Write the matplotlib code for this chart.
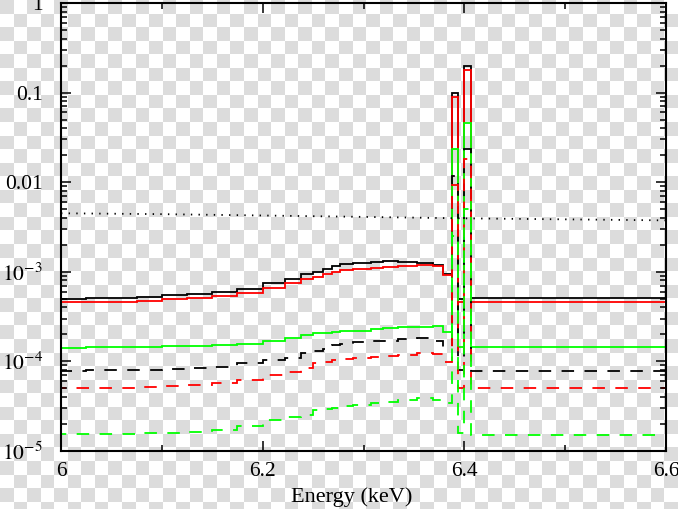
import numpy as np
import matplotlib
matplotlib.use("Agg")
import matplotlib.pyplot as plt
from matplotlib.ticker import FixedLocator, FixedFormatter, LogLocator, NullFormatter

plt.rcParams['font.family'] = ['Liberation Serif', 'DejaVu Serif']
plt.rcParams['mathtext.fontset'] = 'stix'
plt.rcParams['lines.scale_dashes'] = False

# bin edges (keV)
edges = [6.0, 6.025, 6.05, 6.075, 6.1, 6.125, 6.15, 6.175, 6.2, 6.222, 6.238,
         6.25, 6.26, 6.269, 6.277, 6.29, 6.307, 6.319, 6.334, 6.353, 6.369,
         6.379, 6.388, 6.394, 6.4, 6.407, 6.5, 6.6]

# solid curves
black_solid = [4.97e-4, 5.1e-4, 5.1e-4, 5.27e-4, 5.47e-4, 5.7e-4, 6.0e-4, 6.43e-4,
               7.44e-4, 8.31e-4, 9.38e-4, 1.0e-3, 1.07e-3, 1.16e-3, 1.21e-3, 1.26e-3,
               1.30e-3, 1.32e-3, 1.30e-3, 1.26e-3, 1.19e-3, 9.5e-4, 0.1, 5.0e-4, 0.2,
               5.1e-4, 5.1e-4]
red_solid = [4.57e-4, 4.61e-4, 4.61e-4, 4.75e-4, 4.93e-4, 5.14e-4, 5.41e-4, 5.75e-4,
             6.65e-4, 7.44e-4, 8.24e-4, 8.81e-4, 9.45e-4, 1.0e-3, 1.05e-3, 1.07e-3,
             1.11e-3, 1.14e-3, 1.17e-3, 1.19e-3, 1.16e-3, 9.2e-4, 0.089, 4.6e-4, 0.178,
             4.6e-4, 4.6e-4]
green_solid = [1.42e-4, 1.43e-4, 1.44e-4, 1.45e-4, 1.47e-4, 1.49e-4, 1.52e-4, 1.56e-4,
               1.70e-4, 1.81e-4, 1.97e-4, 2.06e-4, 2.1e-4, 2.15e-4, 2.18e-4, 2.2e-4,
               2.28e-4, 2.34e-4, 2.40e-4, 2.44e-4, 2.48e-4, 2.13e-4, 0.0234, 1.45e-4, 0.046,
               1.45e-4, 1.45e-4]

# dashed curves
black_dashed = [7.87e-5, 8.0e-5, 8.0e-5, 8.1e-5, 8.2e-5, 8.4e-5, 8.7e-5, 9.5e-5,
                1.04e-4, 1.1e-4, 1.24e-4, 1.3e-4, 1.36e-4, 1.52e-4, 1.57e-4, 1.63e-4,
                1.67e-4, 1.70e-4, 1.76e-4, 1.81e-4, 1.70e-4, 1.45e-4, 0.0117, 8.0e-5, 0.0235,
                7.8e-5, 7.8e-5]
red_dashed = [5.0e-5, 5.05e-5, 5.05e-5, 5.15e-5, 5.3e-5, 5.45e-5, 5.7e-5, 6.2e-5,
              7.05e-5, 7.6e-5, 8.37e-5, 9.5e-5, 9.8e-5, 1.04e-4, 1.07e-4, 1.1e-4,
              1.13e-4, 1.16e-4, 1.18e-4, 1.23e-4, 1.2e-4, 9.85e-5, 0.0093, 5.0e-5, 0.018,
              5.0e-5, 5.0e-5]
green_dashed = [1.53e-5, 1.55e-5, 1.55e-5, 1.57e-5, 1.6e-5, 1.64e-5, 1.72e-5, 1.9e-5,
                2.22e-5, 2.4e-5, 2.52e-5, 2.87e-5, 2.95e-5, 3.05e-5, 3.18e-5, 3.3e-5,
                3.4e-5, 3.55e-5, 3.71e-5, 3.93e-5, 3.71e-5, 3.43e-5, 0.0025, 1.6e-5, 0.005,
                1.52e-5, 1.52e-5]

# dotted curve
dotted_e = [6.0, 6.1, 6.2, 6.3, 6.4, 6.5, 6.6]
dotted_v = [4.5e-3, 4.4e-3, 4.25e-3, 4.1e-3, 3.95e-3, 3.85e-3, 3.75e-3]

xticks = [6.0, 6.2, 6.4, 6.6]
xticklabels = ["6", "6.2", "6.4", "6.6"]
yticks = [1e-5, 1e-4, 1e-3, 1e-2, 1e-1, 1]
yticklabels = [r"$10^{-5}$", r"$10^{-4}$", r"$10^{-3}$", "0.01", "0.1", "1"]

W, H = 678, 509
fig = plt.figure(figsize=(W / 100, H / 100), dpi=100)

# checkerboard background
sq = 13.56
nx, ny = int(W / sq) + 2, int(H / sq) + 2
cb = (np.add.outer(np.arange(ny), np.arange(nx)) % 2).astype(float)
bg = fig.add_axes([0, 0, 1, 1], zorder=-10)
bg.imshow(cb, cmap=matplotlib.colors.ListedColormap(["#dcdcdc", "#ffffff"]),
          extent=[0, nx * sq, ny * sq, 0], interpolation="nearest", aspect="auto")
bg.set_xlim(0, W)
bg.set_ylim(H, 0)
bg.axis("off")

ax = fig.add_axes([61 / W, (H - 451) / H, (666 - 61) / W, (451 - 3) / H])
ax.set_facecolor("none")

lw = 1.3
dash = (0, (9.0, 7.5))
ax.plot(dotted_e, dotted_v, color="black", lw=lw, linestyle=(0, (1.0, 4.5)))
ax.stairs(black_solid, edges, color="black", lw=lw)
ax.stairs(red_solid, edges, color="#ff0000", lw=lw)
ax.stairs(green_solid, edges, color="#00ff00", lw=lw)
ax.stairs(black_dashed, edges, color="black", lw=lw, linestyle=dash)
ax.stairs(red_dashed, edges, color="#ff0000", lw=lw, linestyle=dash)
ax.stairs(green_dashed, edges, color="#00ff00", lw=lw, linestyle=dash)

ax.set_yscale("log")
ax.set_xlim(6.0, 6.6)
ax.set_ylim(1e-5, 1)

ax.xaxis.set_major_locator(FixedLocator(xticks))
ax.xaxis.set_major_formatter(FixedFormatter(xticklabels))
ax.xaxis.set_minor_locator(FixedLocator([6.1, 6.3, 6.5]))
ax.yaxis.set_major_locator(FixedLocator(yticks))
ax.yaxis.set_major_formatter(FixedFormatter(yticklabels))
ax.yaxis.set_minor_locator(LogLocator(base=10, subs=np.arange(2, 10), numticks=20))
ax.yaxis.set_minor_formatter(NullFormatter())

ax.tick_params(which="both", direction="in", top=True, right=True, width=1.1,
               colors="black", labelsize=15.5)
ax.tick_params(which="major", length=7.2)
ax.tick_params(which="minor", length=4.3)
ax.tick_params(axis="x", which="major", pad=8)
ax.tick_params(axis="y", which="major", pad=13)
for s in ax.spines.values():
    s.set_linewidth(1.5)

ax.set_xlabel("Energy (keV)", fontsize=16)
ax.xaxis.set_label_coords((352 - 61) / (666 - 61), -(502 - 451) / (451 - 3), transform=ax.transAxes)
ax.xaxis.label.set_va("baseline")

fig.savefig("out.png", dpi=100)
